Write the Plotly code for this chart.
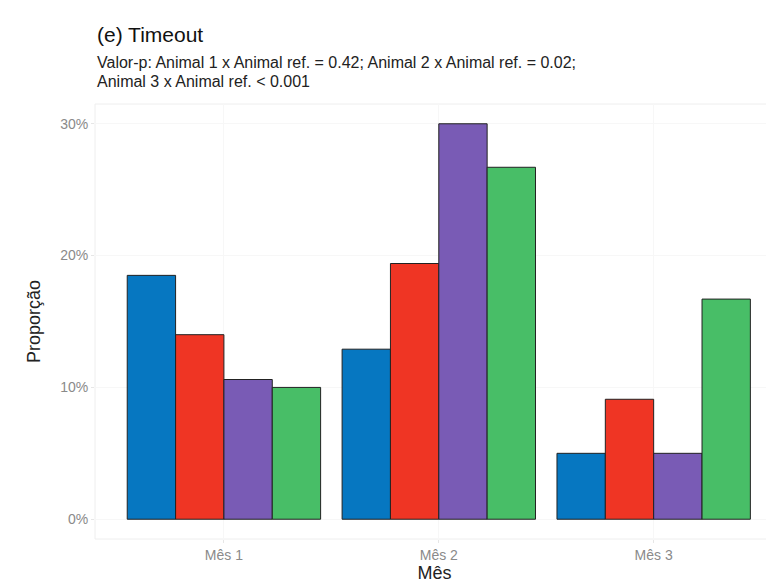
import plotly.graph_objects as go

meses = ["Mês 1", "Mês 2", "Mês 3"]
series_names = ["Animal ref.", "Animal 1", "Animal 2", "Animal 3"]
valores = {
    "Animal ref.": [18.5, 12.9, 5.0],
    "Animal 1": [14.0, 19.4, 9.1],
    "Animal 2": [10.6, 30.0, 5.0],
    "Animal 3": [10.0, 26.7, 16.7],
}
cores = ["#0677C1", "#EF3524", "#795BB5", "#48BE67"]
y_ticks = [0, 10, 20, 30]
y_ticklabels = ["0%", "10%", "20%", "30%"]

fig = go.Figure()
for nome, cor in zip(series_names, cores):
    fig.add_trace(go.Bar(
        x=[1, 2, 3], y=valores[nome], name=nome,
        marker=dict(color=cor, line=dict(color="#222222", width=1)),
    ))

font = "Liberation Sans, Arial, sans-serif"
PB = 539.0  # plot bottom in window px
PH = 435.0  # plot height px


def py(y):
    return (PB - y) / PH


fig.update_layout(
    width=766, height=576,
    barmode="group", bargap=0.1, bargroupgap=0,
    showlegend=False,
    paper_bgcolor="white", plot_bgcolor="white",
    margin=dict(l=87, r=0, t=96, b=45),
    font=dict(family=font, color="#333333"),
    xaxis=dict(
        range=[0.4, 3.56], tickvals=[1, 2, 3], ticktext=meses,
        showgrid=True, gridcolor="#f7f7f7", zeroline=False,
        ticks="outside", ticklen=3, tickcolor="#e6e6e6",
        tickfont=dict(size=14, color="#8a8a8a"),
        title=dict(text="Mês", font=dict(size=18, color="#222222"), standoff=2),
        showline=False,
    ),
    yaxis=dict(
        range=[-1.5, 31.5], tickvals=y_ticks, ticktext=y_ticklabels,
        showgrid=True, gridcolor="#f7f7f7", zeroline=False,
        ticks="outside", ticklen=3, tickcolor="#e6e6e6",
        tickfont=dict(size=14, color="#8a8a8a"),
        title=dict(text="Proporção", font=dict(size=18, color="#222222"), standoff=14),
    ),
    shapes=[dict(type="rect", xref="paper", yref="paper", x0=0, x1=1.02, y0=0, y1=1,
                 line=dict(color="#eeeeee", width=1), fillcolor="rgba(0,0,0,0)", layer="below")],
    annotations=[
        dict(text="(e) Timeout", xref="paper", yref="paper", x=0, y=py(35),
             xanchor="left", yanchor="middle", showarrow=False,
             font=dict(size=21, color="#111111", family=font)),
        dict(text="Valor-p: Animal 1 x Animal ref. = 0.42; Animal 2 x Animal ref. = 0.02;",
             xref="paper", yref="paper", x=0, y=py(62),
             xanchor="left", yanchor="middle", showarrow=False,
             font=dict(size=16, color="#222222", family=font)),
        dict(text="Animal 3 x Animal ref. < 0.001",
             xref="paper", yref="paper", x=0, y=py(82),
             xanchor="left", yanchor="middle", showarrow=False,
             font=dict(size=16, color="#222222", family=font)),
    ],
)

fig.write_html("out.html")
